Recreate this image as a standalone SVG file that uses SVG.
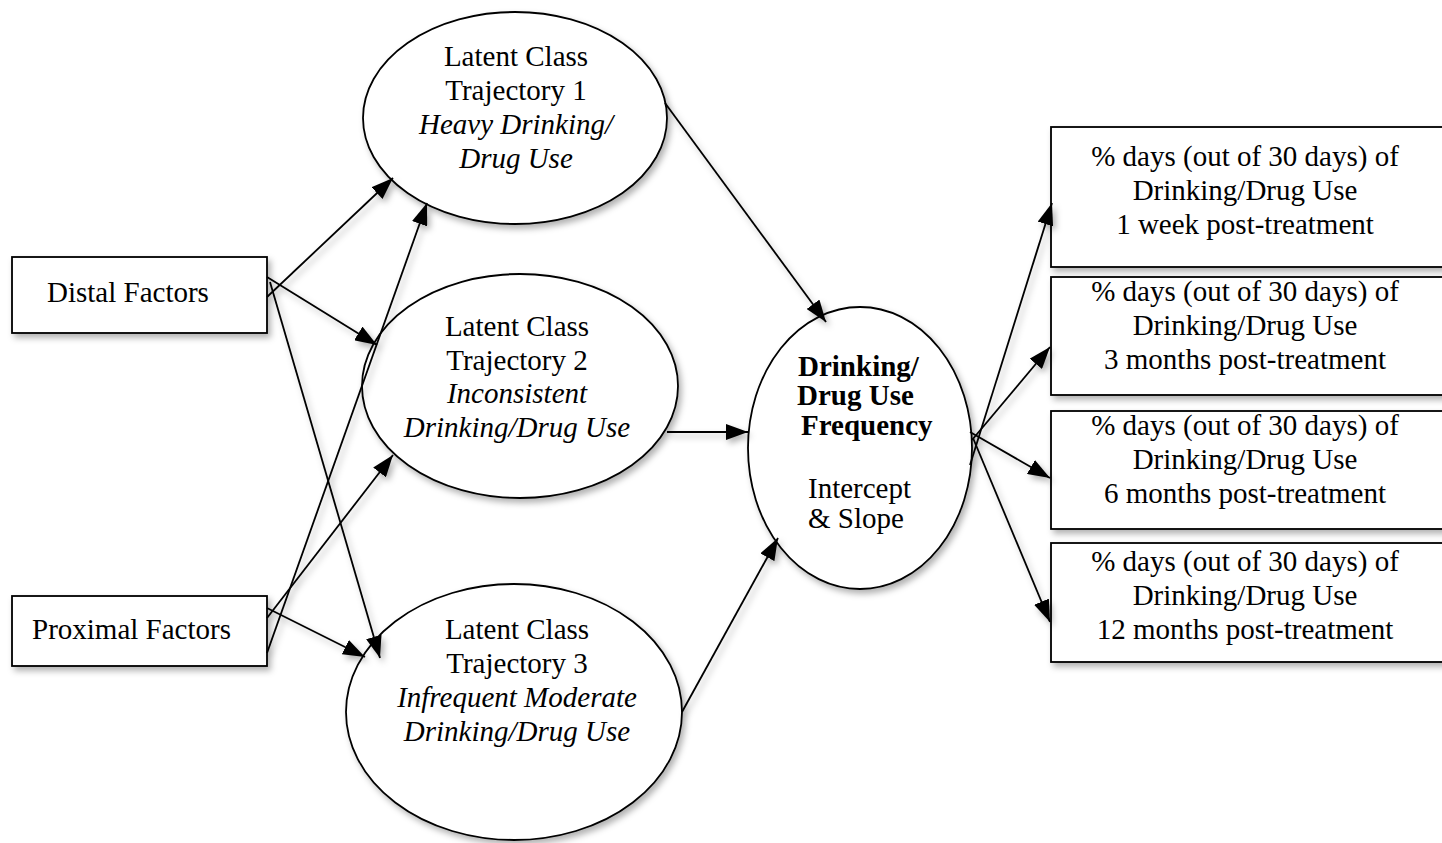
<svg xmlns="http://www.w3.org/2000/svg" width="1442" height="843" viewBox="0 0 1442 843">
<style>
.shape{fill:#fff;stroke:#000;stroke-width:1.8;filter:url(#sh)}
.t{font-family:"Liberation Serif","Times New Roman",serif;font-size:29px;fill:#000}
.c{text-anchor:middle}
.i{font-style:italic}
.b{font-weight:bold}
.ln{stroke:#000;stroke-width:1.8;fill:none;marker-end:url(#ah)}
</style>
<defs>
<filter id="sh" x="-20%" y="-20%" width="140%" height="140%">
<feDropShadow dx="3" dy="4" stdDeviation="3" flood-color="#000" flood-opacity="0.3"/>
</filter>
<marker id="ah" markerUnits="userSpaceOnUse" markerWidth="22" markerHeight="16" refX="22" refY="8" orient="auto">
<path d="M0,0 L22,8 L0,16 z" fill="#000"/>
</marker>
</defs>
<g id="distal">
<rect class="shape" x="12" y="257" width="255" height="76"/>
<text class="t" x="47" y="302">Distal Factors</text>
</g>
<g id="proximal">
<rect class="shape" x="12" y="596" width="255" height="70"/>
<text class="t" x="32" y="639">Proximal Factors</text>
</g>
<g id="traj1">
<ellipse class="shape" cx="515" cy="118" rx="152" ry="106"/>
<text class="t c" x="516" y="66">Latent Class</text>
<text class="t c" x="516" y="100">Trajectory 1</text>
<text class="t c i" x="516" y="134">Heavy Drinking/</text>
<text class="t c i" x="516" y="168">Drug Use</text>
</g>
<g id="traj2">
<ellipse class="shape" cx="520" cy="386" rx="158" ry="112"/>
<text class="t c" x="517" y="336">Latent Class</text>
<text class="t c" x="517" y="370">Trajectory 2</text>
<text class="t c i" x="517" y="403">Inconsistent</text>
<text class="t c i" x="517" y="437">Drinking/Drug Use</text>
</g>
<g id="traj3">
<ellipse class="shape" cx="514" cy="712" rx="168" ry="128"/>
<text class="t c" x="517" y="639">Latent Class</text>
<text class="t c" x="517" y="673">Trajectory 3</text>
<text class="t c i" x="517" y="707">Infrequent Moderate</text>
<text class="t c i" x="517" y="741">Drinking/Drug Use</text>
</g>
<g id="freq">
<ellipse class="shape" cx="860" cy="448" rx="112" ry="141"/>
<text class="t b" x="798" y="376">Drinking/</text>
<text class="t b" x="797" y="405">Drug Use</text>
<text class="t b" x="801" y="435">Frequency</text>
<text class="t" x="808" y="498">Intercept</text>
<text class="t" x="808" y="528">&amp; Slope</text>
</g>
<g id="out1">
<rect class="shape" x="1051" y="127" width="400" height="140"/>
<text class="t c" x="1245" y="166">% days (out of 30 days) of</text>
<text class="t c" x="1245" y="200">Drinking/Drug Use</text>
<text class="t c" x="1245" y="234">1 week post-treatment</text>
</g>
<g id="out2">
<rect class="shape" x="1051" y="277" width="400" height="118"/>
<text class="t c" x="1245" y="301">% days (out of 30 days) of</text>
<text class="t c" x="1245" y="335">Drinking/Drug Use</text>
<text class="t c" x="1245" y="369">3 months post-treatment</text>
</g>
<g id="out3">
<rect class="shape" x="1051" y="411" width="400" height="118"/>
<text class="t c" x="1245" y="435">% days (out of 30 days) of</text>
<text class="t c" x="1245" y="469">Drinking/Drug Use</text>
<text class="t c" x="1245" y="503">6 months post-treatment</text>
</g>
<g id="out4">
<rect class="shape" x="1051" y="543" width="400" height="119"/>
<text class="t c" x="1245" y="571">% days (out of 30 days) of</text>
<text class="t c" x="1245" y="605">Drinking/Drug Use</text>
<text class="t c" x="1245" y="639">12 months post-treatment</text>
</g>
<g id="connectors" filter="url(#sh)">
<line class="ln" x1="267" y1="297" x2="393" y2="178"/>
<line class="ln" x1="267" y1="277" x2="377" y2="345"/>
<line class="ln" x1="270" y1="282" x2="380" y2="658"/>
<line class="ln" x1="267" y1="653" x2="427" y2="203"/>
<line class="ln" x1="267" y1="618" x2="393" y2="455"/>
<line class="ln" x1="267" y1="608" x2="365" y2="657"/>
<line class="ln" x1="665" y1="103" x2="826" y2="322"/>
<line class="ln" x1="667" y1="432" x2="748" y2="432"/>
<line class="ln" x1="682" y1="712" x2="778" y2="538"/>
<line class="ln" x1="970" y1="465" x2="1052" y2="203"/>
<line class="ln" x1="972" y1="440" x2="1050" y2="347"/>
<line class="ln" x1="970" y1="432" x2="1050" y2="478"/>
<line class="ln" x1="973" y1="438" x2="1050" y2="622"/>
</g>
</svg>
